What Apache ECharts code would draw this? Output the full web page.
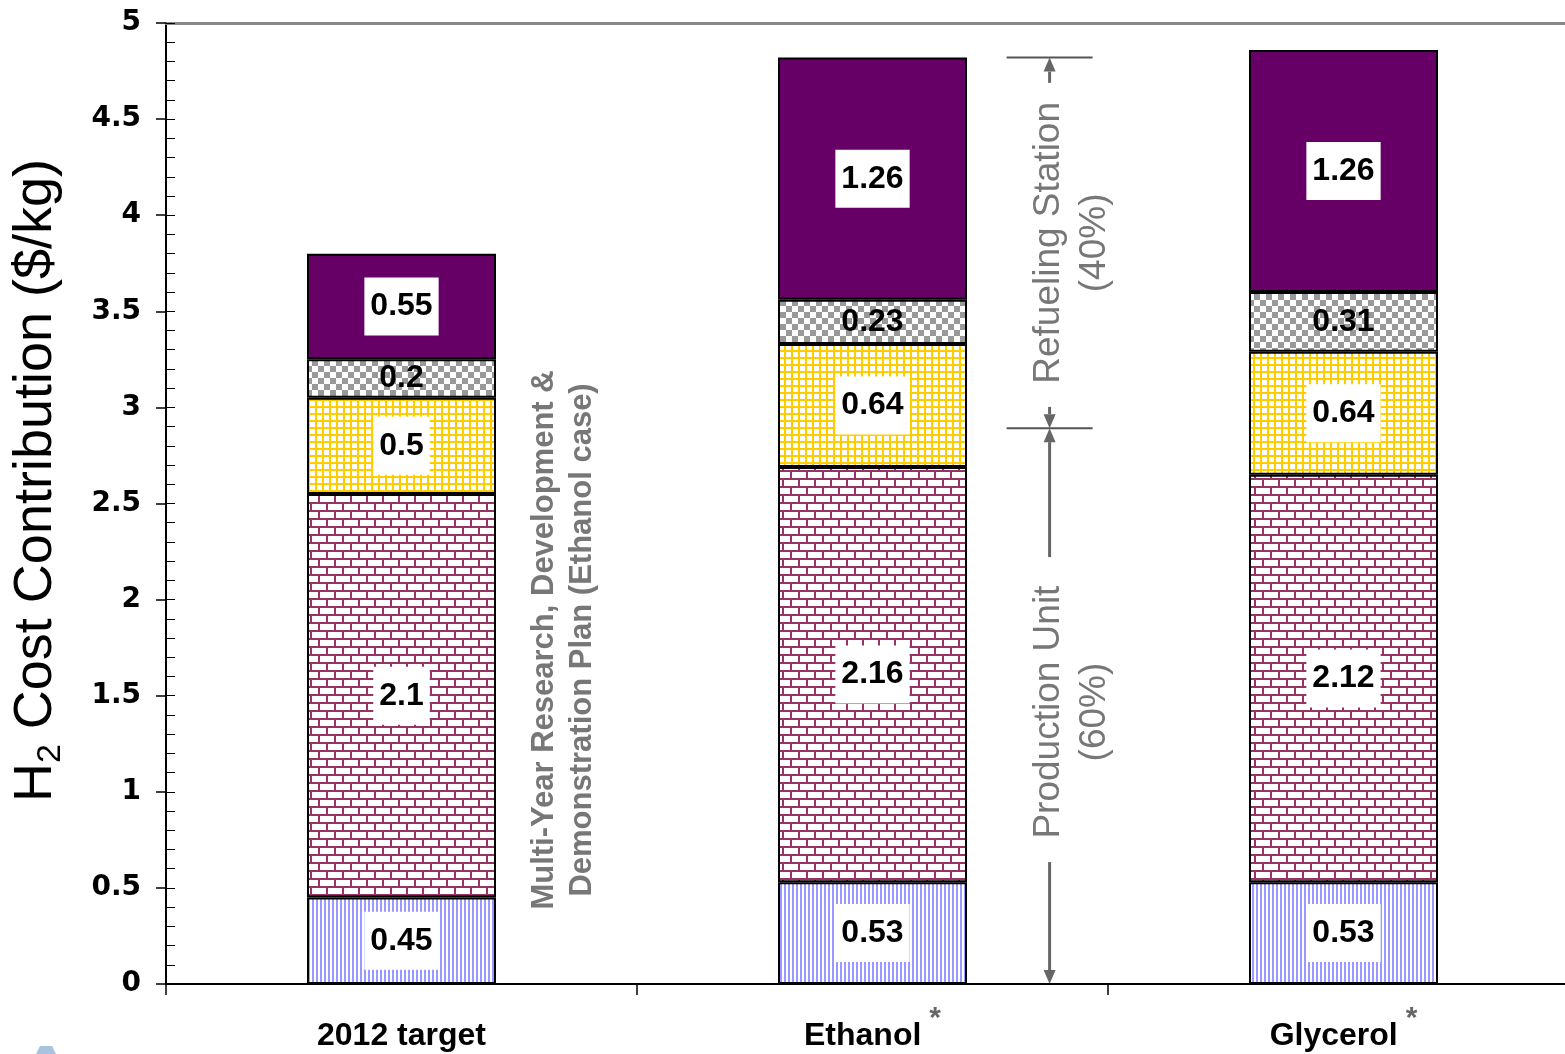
<!DOCTYPE html>
<html>
<head>
<meta charset="utf-8">
<script src="https://cdn.jsdelivr.net/npm/echarts@6/dist/echarts.min.js"></script>
<style>
  html, body { margin: 0; padding: 0; background: #fff; }
  #chart { width: 1565px; height: 1054px; }
</style>
</head>
<body>
<div id="chart"></div>
<script>
// Hydrogen cost build-up per case ($/kg), bottom layer first
const categories = ['2012 target', 'Ethanol', 'Glycerol'];
const starred = [false, true, true];
const feedCost = [0.45, 0.53, 0.53];
const productionCost = [2.1, 2.16, 2.12];
const compressionCost = [0.5, 0.64, 0.64];
const storageCost = [0.2, 0.23, 0.31];
const stationCost = [0.55, 1.26, 1.26];

// Value axis range
const yMin = 0, yMax = 5, yStep = 0.5, yMinorStep = 0.1;

// Split of the Ethanol total between production unit and refueling station
const productionShare = 0.6;
const stationShare = 0.4;

const FONT = 'Liberation Sans, Arial, Helvetica, sans-serif';

function pattern(w, h, draw) {
  const c = document.createElement('canvas');
  c.width = w; c.height = h;
  const g = c.getContext('2d');
  draw(g);
  return { image: c, repeat: 'repeat' };
}

const stripeFill = pattern(4, 4, g => {
  g.fillStyle = '#fff'; g.fillRect(0, 0, 4, 4);
  g.fillStyle = '#9999ff'; g.fillRect(0, 0, 2, 4);
});
const brickFill = pattern(16, 16, g => {
  g.fillStyle = '#993366'; g.fillRect(0, 0, 16, 16);
  g.fillStyle = '#fff';
  g.fillRect(0, 0, 14, 6);
  g.fillRect(0, 8, 6, 6);
  g.fillRect(8, 8, 8, 6);
});
const gridFill = pattern(7, 7, g => {
  g.fillStyle = '#fff'; g.fillRect(0, 0, 7, 7);
  g.fillStyle = '#ffcc00';
  g.fillRect(0, 0, 7, 2);
  g.fillRect(0, 0, 2, 7);
});
const checkFill = pattern(12, 12, g => {
  g.fillStyle = '#fff'; g.fillRect(0, 0, 12, 12);
  g.fillStyle = '#999999';
  g.fillRect(0, 0, 6, 6);
  g.fillRect(6, 6, 6, 6);
});

function layer(name, data, fill, boxed) {
  return {
    name: name,
    type: 'bar',
    stack: 'cost',
    barWidth: 189,
    data: data,
    itemStyle: { color: fill, borderColor: '#000', borderWidth: 2 },
    label: {
      show: true,
      position: 'inside',
      formatter: p => String(p.value),
      fontFamily: FONT,
      fontWeight: 'bold',
      fontSize: 32,
      color: '#000',
      backgroundColor: boxed ? '#fff' : 'transparent',
      padding: boxed ? [13, 6] : 0
    },
    emphasis: { disabled: true },
    silent: true
  };
}

const chart = echarts.init(document.getElementById('chart'), null, { renderer: 'canvas' });

const option = {
  animation: false,
  backgroundColor: '#fff',
  grid: { left: 166, right: -14, top: 23, bottom: 70, containLabel: false, outerBoundsMode: 'none' },
  xAxis: [
    {
      type: 'category',
      data: categories,
      axisLine: { onZero: false, lineStyle: { color: '#000', width: 2 } },
      axisTick: { show: true, length: 11, lineStyle: { color: '#000', width: 1.5 } },
      axisLabel: {
        margin: 20,
        formatter: (v, i) => starred[i] ? '{a|' + v + '}{s|*}' : '{a|' + v + '}',
        rich: {
          a: { fontFamily: FONT, fontWeight: 'bold', fontSize: 32, color: '#000', lineHeight: 64 },
          s: { fontFamily: FONT, fontWeight: 'bold', fontSize: 30, color: '#666', lineHeight: 4, verticalAlign: 'top', padding: [0, 0, 0, 8] }
        }
      }
    },
    {
      type: 'category',
      data: categories,
      position: 'top',
      axisLine: { onZero: false, lineStyle: { color: '#888', width: 3 } },
      axisTick: { show: false },
      axisLabel: { show: false }
    }
  ],
  yAxis: [
    {
      type: 'value',
      min: yMin, max: yMax, interval: yStep,
      name: '{h|H}{sub|2}{h| Cost Contribution ($/kg)}',
      nameLocation: 'middle',
      nameGap: 100,
      nameRotate: 90,
      nameTextStyle: {
        padding: [0, 0, 0, 46],
        rich: {
          h: { fontFamily: FONT, fontSize: 54, color: '#000', lineHeight: 60 },
          sub: { fontFamily: FONT, fontSize: 34, color: '#000', lineHeight: 60, padding: [30, 0, 0, 0] }
        }
      },
      axisLine: { show: true, lineStyle: { color: '#000', width: 2 } },
      axisTick: { show: true, length: 10, lineStyle: { color: '#000', width: 1.5 } },
      axisLabel: {
        margin: 25,
        fontFamily: 'DejaVu Sans, Verdana, sans-serif',
        fontWeight: 'bold',
        fontSize: 28,
        color: '#000',
        formatter: v => String(+v.toFixed(1))
      },
      splitLine: { show: false }
    },
    {
      type: 'value',
      min: yMin, max: yMax, interval: yMinorStep,
      position: 'left',
      axisLine: { show: true, lineStyle: { color: '#000', width: 2 } },
      axisTick: { show: true, inside: true, length: 9, lineStyle: { color: '#000', width: 1 } },
      axisLabel: { show: false },
      splitLine: { show: false }
    }
  ],
  series: [
    layer('Feedstock', feedCost, stripeFill, true),
    layer('Production', productionCost, brickFill, true),
    layer('Compression', compressionCost, gridFill, true),
    layer('Storage', storageCost, checkFill, false),
    layer('Dispensing', stationCost, '#660066', true)
  ]
};

chart.setOption(option);

// Annotations placed from the axis scales
const px = (c, v) => chart.convertToPixel({ xAxisIndex: 0, yAxisIndex: 0 }, [c, v]);
const ethanolTotal = feedCost[1] + productionCost[1] + compressionCost[1] + storageCost[1] + stationCost[1];
const yTop = px(1, ethanolTotal)[1];
const ySplit = px(1, ethanolTotal * productionShare)[1];
const yZero = px(1, 0)[1];
const c1 = px(1, 0)[0], c2 = px(2, 0)[0], c0 = px(0, 0)[0];
const bx = c1 + (c2 - c1) * 0.376;
const GRAY = '#666';

function hLine(y) {
  return { type: 'line', shape: { x1: bx - 43, y1: y, x2: bx + 43, y2: y }, style: { stroke: '#555', lineWidth: 2 } };
}
function arrow(tipY, tailY) {
  const dir = tailY > tipY ? 1 : -1; // 1: pointing up
  const headLen = 14;
  return [
    { type: 'line', shape: { x1: bx, y1: tailY, x2: bx, y2: tipY + dir * headLen }, style: { stroke: GRAY, lineWidth: 3 } },
    { type: 'polygon', shape: { points: [[bx, tipY], [bx - 6, tipY + dir * headLen], [bx + 6, tipY + dir * headLen]] }, style: { fill: GRAY } }
  ];
}
function vText(x, y, text, font, lineHeight, fill) {
  return {
    type: 'text', x: x, y: y, rotation: Math.PI / 2,
    style: { text: text, font: font, fill: fill, align: 'center', verticalAlign: 'middle', lineHeight: lineHeight }
  };
}

const stationMid = (yTop + ySplit) / 2;
const prodMid = (ySplit + yZero) / 2;

const graphics = [
  hLine(yTop),
  hLine(ySplit),
  ...arrow(yTop, stationMid - 160),
  ...arrow(ySplit, stationMid + 164),
  ...arrow(ySplit, prodMid - 149),
  ...arrow(yZero, prodMid + 156),
  vText(bx + 22, stationMid, 'Refueling Station\n(' + Math.round(stationShare * 100) + '%)', '37px ' + FONT, 46, '#777'),
  vText(bx + 22, prodMid + 6, 'Production Unit\n(' + Math.round(productionShare * 100) + '%)', '37px ' + FONT, 46, '#777'),
  vText(c0 + (c1 - c0) * 0.344, px(0, 1.79)[1], 'Multi-Year Research, Development &\nDemonstration Plan (Ethanol case)', 'bold 31px ' + FONT, 38, '#777'),
  { type: 'polygon', shape: { points: [[36, 1054], [40, 1046], [52, 1046], [56, 1054]] }, style: { fill: '#a9c3df' } }
];

chart.setOption({ graphic: { elements: graphics } });
</script>
</body>
</html>
